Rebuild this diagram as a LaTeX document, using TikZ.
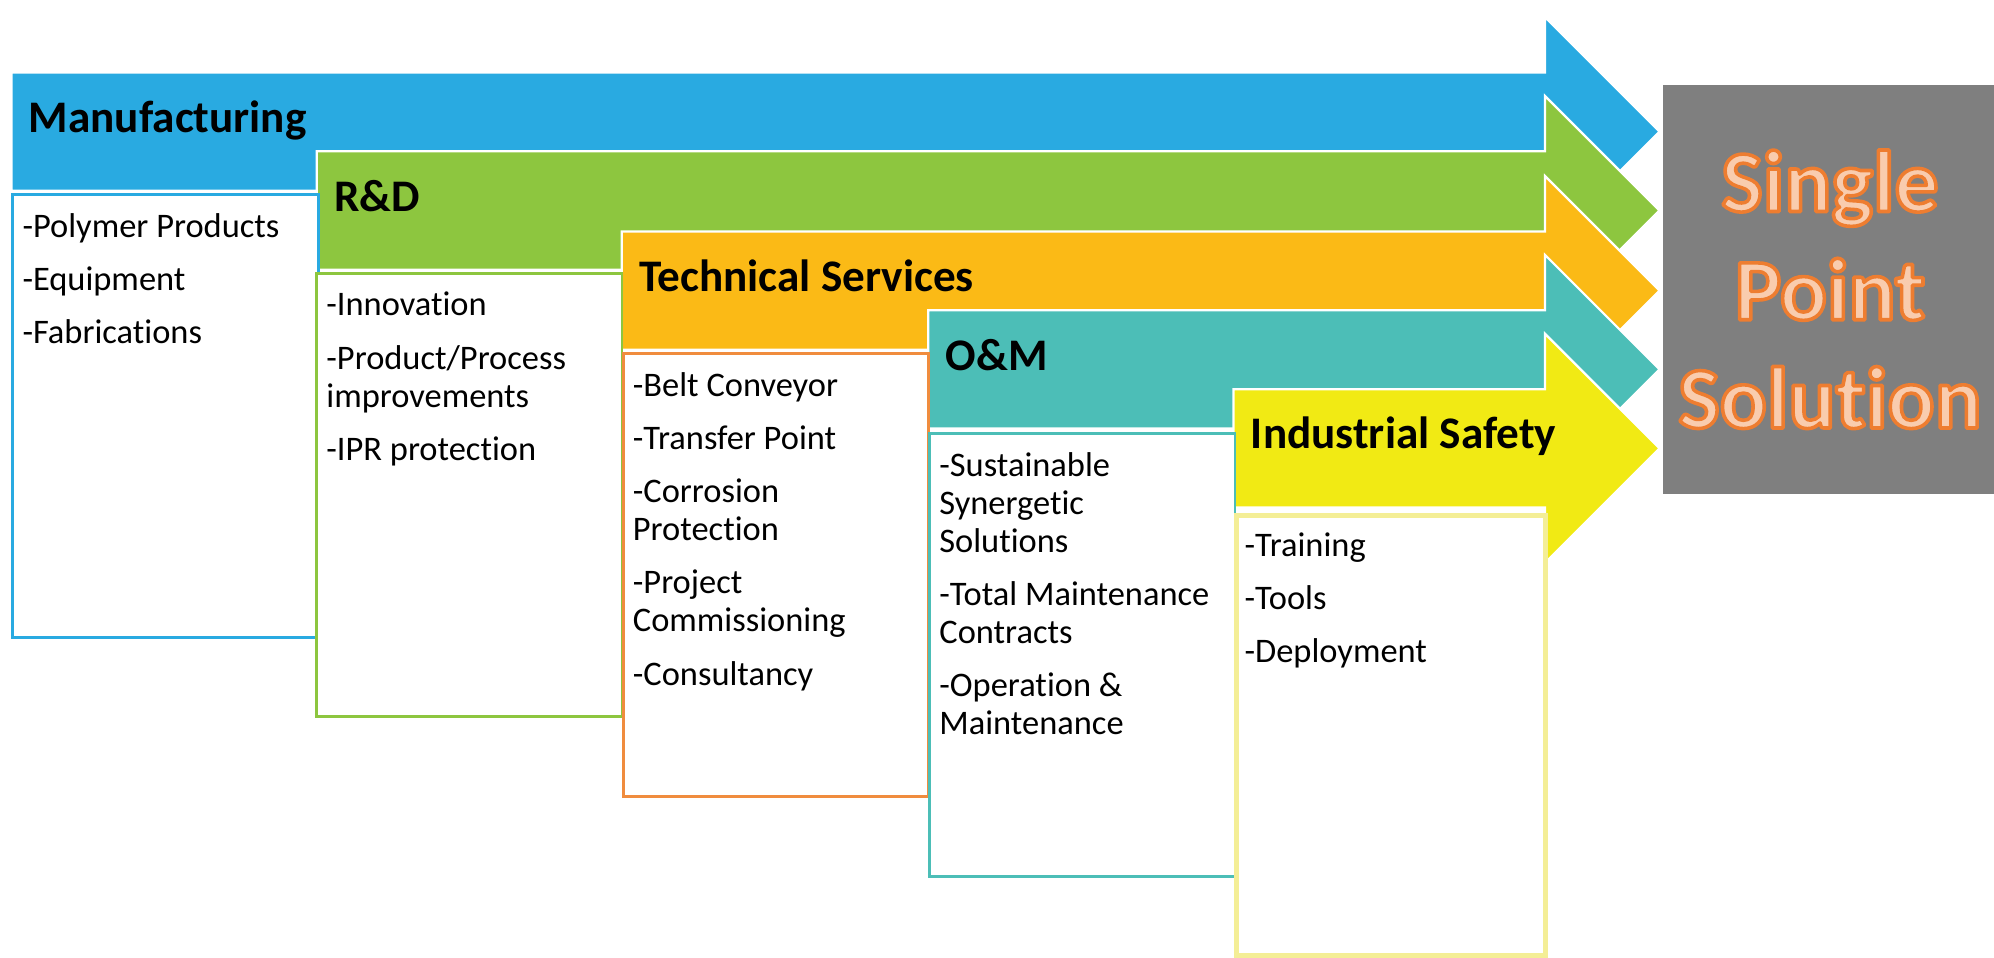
\documentclass[tikz,border=0pt]{standalone}
\usepackage{fontspec}
\setmainfont{Carlito}[Ligatures={NoCommon}]
\usetikzlibrary{positioning}

\definecolor{mfgblue}{HTML}{29AAE1}
\definecolor{rndgreen}{HTML}{8DC63F}
\definecolor{techgold}{HTML}{FBBA16}
\definecolor{onmteal}{HTML}{4CBEB7}
\definecolor{safeyellow}{HTML}{F1EA14}
\definecolor{techline}{HTML}{F08C3E}
\definecolor{safeline}{HTML}{F4EE96}
\definecolor{spsgray}{HTML}{7F7F7F}
\definecolor{spstext}{HTML}{F9CCAE}

% orange outline round the letters (fill, then stroke)
\newcommand{\glowtext}[1]{\special{pdf:literal direct 2 Tr 0.8 w 1 j 0.933 0.490 0.188 RG}#1\special{pdf:literal direct 0 Tr}}

\tikzstyle{band} = [draw=white, line width=0.5pt]
\tikzstyle{title} = [anchor=base west, inner sep=0pt, font=\fontsize{10.1}{12}\selectfont\bfseries]
\tikzstyle{itembox} = [rectangle, anchor=north west, minimum width=2.40cm, minimum height=3.48cm, line width=0.6pt, fill=white]
\tikzstyle{items} = [anchor=north west, inner sep=0pt, align=left, font=\fontsize{7.7}{8.5}\selectfont]
\tikzstyle{solution} = [rectangle, fill=spsgray, minimum width=2.58cm, minimum height=3.21cm, align=center, text=spstext, font=\fontsize{19.6}{24.2}\selectfont\bfseries]

\begin{document}
\begin{tikzpicture}[x=0.01cm, y=-0.01cm]
\useasboundingbox (0,0) rectangle (1568,753);

% the five bands
\filldraw [band, fill=mfgblue] (9,57) -| (1215,13.5) -- (1305,103.5) -- (1215,193.5) |- (9,150) -- cycle;
\filldraw [band, fill=rndgreen] (249,119) -| (1215,75.5) -- (1305,165.5) -- (1215,255.5) |- (249,212) -- cycle;
\filldraw [band, fill=techgold] (489,182) -| (1215,138.5) -- (1305,228.5) -- (1215,318.5) |- (489,275) -- cycle;
\filldraw [band, fill=onmteal] (730,244) -| (1215,200.5) -- (1305,290.5) -- (1215,380.5) |- (730,337) -- cycle;
\filldraw [band, fill=safeyellow] (970,306) -| (1215,262.5) -- (1305,352.5) -- (1215,442.5) |- (970,399) -- cycle;

\node (mfg) [title] at (22,104) {Manufacturing};
\node (rnd) [title] at (262,166) {R\&D};
\node (tech) [title] at (502,229) {Technical Services};
\node (onm) [title] at (743,291) {O\&M};
\node (safety) [title] at (983,353) {Industrial Safety};

% boxes under the bands
\node (mfgbox) [itembox, draw=mfgblue] at (9,152) {};
\node (rndbox) [itembox, draw=rndgreen] at (248,214) {};
\node (techbox) [itembox, draw=techline] at (489,277) {};
\node (onmbox) [itembox, draw=onmteal] at (730,340) {};
\node (safetybox) [itembox, draw=safeline, line width=1.2pt, minimum width=2.43cm, minimum height=3.46cm] at (970,403) {};

\node (mfglist) [items, below right=0.15cm and 0.08cm of mfgbox.north west] {-Polymer Products\\[3.4pt]-Equipment\\[3.4pt]-Fabrications};
\node (rndlist) [items, below right=0.15cm and 0.08cm of rndbox.north west] {-Innovation\\[3.4pt]-Product/Process\\improvements\\[3.4pt]-IPR protection};
\node (techlist) [items, below right=0.15cm and 0.08cm of techbox.north west] {-Belt Conveyor\\[3.4pt]-Transfer Point\\[3.4pt]-Corrosion\\Protection\\[3.4pt]-Project\\Commissioning\\[3.4pt]-Consultancy};
\node (onmlist) [items, below right=0.15cm and 0.08cm of onmbox.north west] {-Sustainable\\Synergetic\\Solutions\\[3.4pt]-Total Maintenance\\Contracts\\[3.4pt]-Operation \&\\Maintenance};
\node (safetylist) [items, below right=0.15cm and 0.08cm of safetybox.north west] {-Training\\[3.4pt]-Tools\\[3.4pt]-Deployment};

\node (single) [solution] at (1439,227.5) {\glowtext{Single}\\\glowtext{Point}\\\glowtext{Solution}};

\end{tikzpicture}
\end{document}
